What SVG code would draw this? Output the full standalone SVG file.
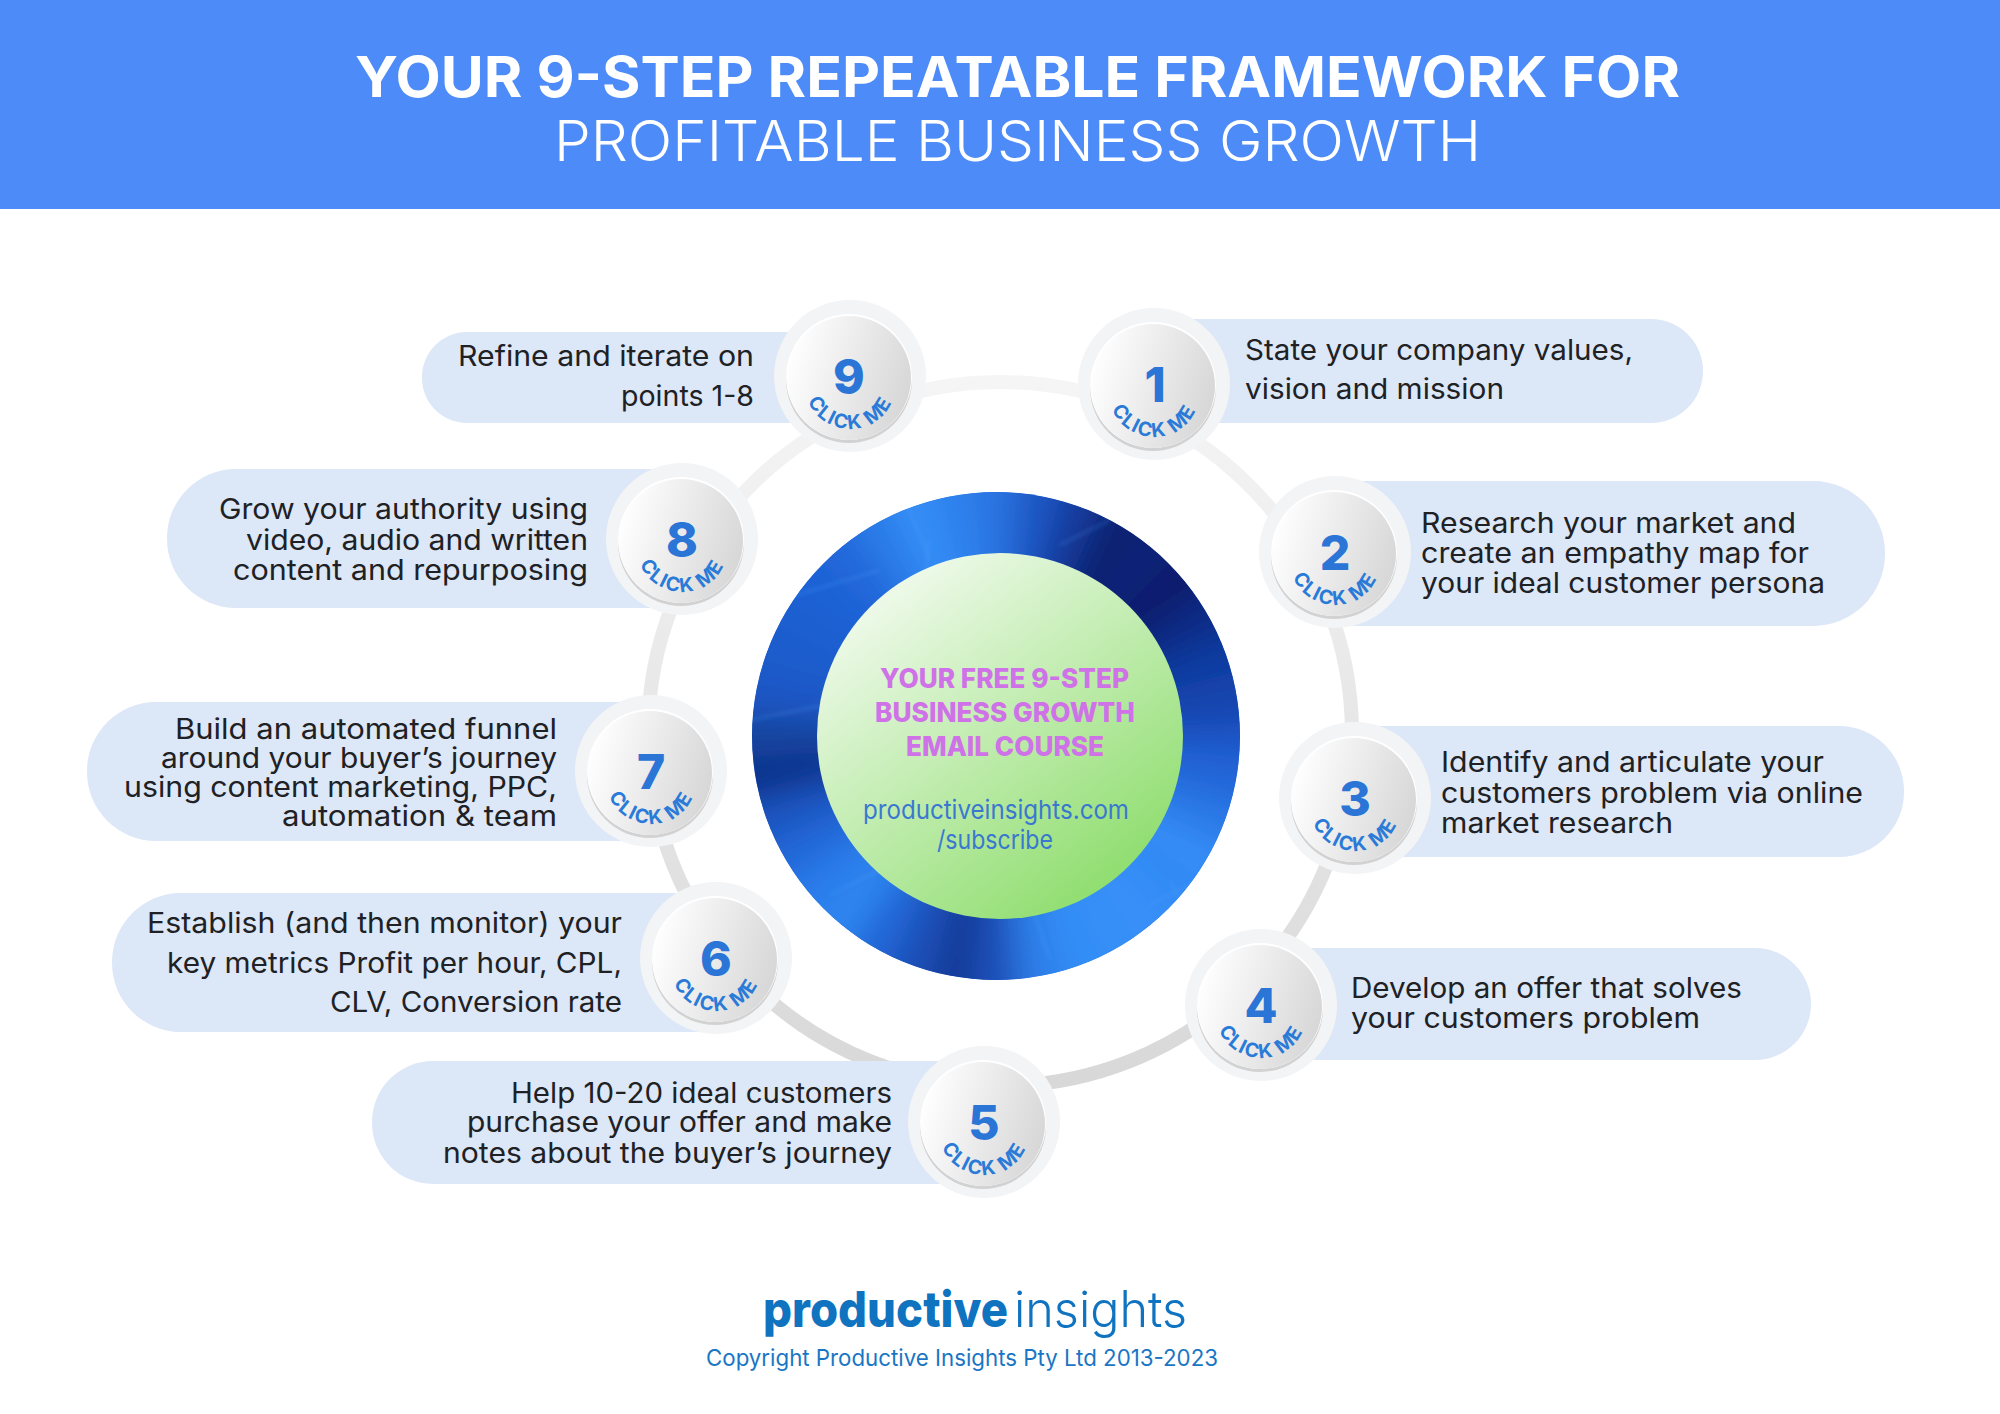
<svg xmlns="http://www.w3.org/2000/svg" width="2000" height="1414" viewBox="0 0 2000 1414">
<style>
text{font-family:"Inter","Liberation Sans",sans-serif}
.t{font-size:28.5px;fill:#202124;font-weight:400}
.pill{fill:#dce7f7}
.num{font-size:48px;font-weight:800;fill:#2a75d6;text-anchor:middle}
.ck{font-size:19.5px;font-weight:700;fill:#2a7ad8;letter-spacing:1.6px}
.h1{font-size:56px;font-weight:700;fill:#fff}
.h2{font-size:56px;font-weight:300;fill:#fff}
.c1{font-size:27px;font-weight:800;fill:#cf72e8}
.c2{font-size:26px;font-weight:400;fill:#3a78d0}
.s{fill:none;stroke-width:130;stroke-dasharray:12 348}
</style>
<defs>
<linearGradient id="ringG" x1="0" y1="0" x2="0" y2="1"><stop offset="0" stop-color="#f5f5f5"/><stop offset="1" stop-color="#d8d8d8"/></linearGradient>
<linearGradient id="coreG" x1="0.15" y1="0.1" x2="0.8" y2="0.95"><stop offset="0" stop-color="#f0faec"/><stop offset="1" stop-color="#8ddd6c"/></linearGradient>
<linearGradient id="ballG" x1="0" y1="0.35" x2="1" y2="0.65"><stop offset="0" stop-color="#ffffff"/><stop offset="1" stop-color="#d6d6d6"/></linearGradient>
<filter id="blur" filterUnits="userSpaceOnUse" x="650" y="390" width="700" height="700"><feGaussianBlur stdDeviation="15"/></filter>
<filter id="blurS" filterUnits="userSpaceOnUse" x="700" y="440" width="600" height="600"><feGaussianBlur stdDeviation="2"/></filter>
<clipPath id="discClip"><circle cx="996" cy="736" r="244"/></clipPath>
<path id="arc" d="M-46 8 A45 45 0 0 0 46 8" fill="none"/>
<g id="ball">
<circle r="76" fill="#f3f4f6"/>
<circle cx="-1" cy="4" r="63" fill="#d2d2d2"/>
<circle cx="-1" cy="1" r="63" fill="#ffffff"/>
<circle cx="-1" cy="2" r="62" fill="url(#ballG)"/>
</g>
</defs>
<rect id="header" x="0" y="0" width="2000" height="209" fill="#4c8bf8"/>
<text class="h1" x="355" y="97" textLength="1325" lengthAdjust="spacingAndGlyphs">YOUR 9-STEP REPEATABLE FRAMEWORK FOR</text>
<text class="h2" x="554" y="161" textLength="927" lengthAdjust="spacingAndGlyphs">PROFITABLE BUSINESS GROWTH</text>

<g id="connectors"><circle cx="1000" cy="734" r="352" fill="none" stroke="url(#ringG)" stroke-width="14"/></g>

<g id="center">
<g clip-path="url(#discClip)">
<circle cx="996" cy="736" r="244" fill="#2266d8"/>
<g filter="url(#blur)">
<g transform="translate(996,736) rotate(-5)">
<circle r="215" class="s" pathLength="360" stroke="#1c57c8" stroke-dashoffset="0"/>
<circle r="215" class="s" pathLength="360" stroke="#2265d8" stroke-dashoffset="-10"/>
<circle r="215" class="s" pathLength="360" stroke="#2a78e6" stroke-dashoffset="-20"/>
<circle r="215" class="s" pathLength="360" stroke="#348cf5" stroke-dashoffset="-30"/>
<circle r="215" class="s" pathLength="360" stroke="#338bf5" stroke-dashoffset="-40"/>
<circle r="215" class="s" pathLength="360" stroke="#388ff8" stroke-dashoffset="-50"/>
<circle r="215" class="s" pathLength="360" stroke="#358ff7" stroke-dashoffset="-60"/>
<circle r="215" class="s" pathLength="360" stroke="#338df5" stroke-dashoffset="-70"/>
<circle r="215" class="s" pathLength="360" stroke="#2d7ee8" stroke-dashoffset="-80"/>
<circle r="215" class="s" pathLength="360" stroke="#1a50b8" stroke-dashoffset="-90"/>
<circle r="215" class="s" pathLength="360" stroke="#123a98" stroke-dashoffset="-100"/>
<circle r="215" class="s" pathLength="360" stroke="#1a50b8" stroke-dashoffset="-110"/>
<circle r="215" class="s" pathLength="360" stroke="#2468d8" stroke-dashoffset="-120"/>
<circle r="215" class="s" pathLength="360" stroke="#2f86f0" stroke-dashoffset="-130"/>
<circle r="215" class="s" pathLength="360" stroke="#2b7cea" stroke-dashoffset="-140"/>
<circle r="215" class="s" pathLength="360" stroke="#2268d8" stroke-dashoffset="-150"/>
<circle r="215" class="s" pathLength="360" stroke="#1a55c0" stroke-dashoffset="-160"/>
<circle r="215" class="s" pathLength="360" stroke="#0e338c" stroke-dashoffset="-170"/>
<circle r="215" class="s" pathLength="360" stroke="#15459f" stroke-dashoffset="-180"/>
<circle r="215" class="s" pathLength="360" stroke="#1a56c4" stroke-dashoffset="-190"/>
<circle r="215" class="s" pathLength="360" stroke="#1c5ccc" stroke-dashoffset="-200"/>
<circle r="215" class="s" pathLength="360" stroke="#1e5fd0" stroke-dashoffset="-210"/>
<circle r="215" class="s" pathLength="360" stroke="#1f62d6" stroke-dashoffset="-220"/>
<circle r="215" class="s" pathLength="360" stroke="#2268da" stroke-dashoffset="-230"/>
<circle r="215" class="s" pathLength="360" stroke="#2a7be8" stroke-dashoffset="-240"/>
<circle r="215" class="s" pathLength="360" stroke="#348ef6" stroke-dashoffset="-250"/>
<circle r="215" class="s" pathLength="360" stroke="#2e82ee" stroke-dashoffset="-260"/>
<circle r="215" class="s" pathLength="360" stroke="#2a73e0" stroke-dashoffset="-270"/>
<circle r="215" class="s" pathLength="360" stroke="#1d57c4" stroke-dashoffset="-280"/>
<circle r="215" class="s" pathLength="360" stroke="#133a9c" stroke-dashoffset="-290"/>
<circle r="215" class="s" pathLength="360" stroke="#0a2270" stroke-dashoffset="-300"/>
<circle r="215" class="s" pathLength="360" stroke="#0a2378" stroke-dashoffset="-310"/>
<circle r="215" class="s" pathLength="360" stroke="#081f6c" stroke-dashoffset="-320"/>
<circle r="215" class="s" pathLength="360" stroke="#0c2c85" stroke-dashoffset="-330"/>
<circle r="215" class="s" pathLength="360" stroke="#0f3a9f" stroke-dashoffset="-340"/>
<circle r="215" class="s" pathLength="360" stroke="#1545ae" stroke-dashoffset="-350"/>
</g>
</g>
<g stroke="#5aaaff" stroke-width="2.5" opacity=".28" fill="none" filter="url(#blurS)">
<path d="M905 500L930 560M930 540L920 610M780 600L880 570M1050 960L1030 900M1150 905L1240 860M1170 880L1210 960M830 895L900 860M750 720L850 700M1060 545L1110 520"/>
</g>
</g>
<circle cx="1000" cy="736" r="183" fill="url(#coreG)"/>
<text class="c1" x="880" y="688" textLength="249" lengthAdjust="spacingAndGlyphs">YOUR FREE 9-STEP</text>
<text class="c1" x="875" y="722" textLength="260" lengthAdjust="spacingAndGlyphs">BUSINESS GROWTH</text>
<text class="c1" x="906" y="756" textLength="198" lengthAdjust="spacingAndGlyphs">EMAIL COURSE</text>
<text class="c2" x="863" y="819" textLength="266" lengthAdjust="spacingAndGlyphs">productiveinsights.com</text>
<text class="c2" x="937" y="849" textLength="116" lengthAdjust="spacingAndGlyphs">/subscribe</text>
</g>

<g id="node1"><rect class="pill" x="1103" y="319" width="600" height="104" rx="52"/>
<use href="#ball" x="1154" y="384"/>
<text class="num" x="1155" y="402">1</text>
<g transform="translate(1154,383)"><text class="ck"><textPath href="#arc" startOffset="50%" text-anchor="middle">CLICK ME</textPath></text></g>
<text class="t" x="1245" y="360" textLength="388" lengthAdjust="spacingAndGlyphs">State your company values,</text>
<text class="t" x="1245" y="399" textLength="259" lengthAdjust="spacingAndGlyphs">vision and mission</text></g>

<g id="node2"><rect class="pill" x="1283" y="481" width="602" height="145" rx="72"/>
<use href="#ball" x="1335" y="552"/>
<text class="num" x="1335" y="570">2</text>
<g transform="translate(1335,551)"><text class="ck"><textPath href="#arc" startOffset="50%" text-anchor="middle">CLICK ME</textPath></text></g>
<text class="t" x="1421" y="533" textLength="375" lengthAdjust="spacingAndGlyphs">Research your market and</text>
<text class="t" x="1421" y="563" textLength="388" lengthAdjust="spacingAndGlyphs">create an empathy map for</text>
<text class="t" x="1421" y="593" textLength="404" lengthAdjust="spacingAndGlyphs">your ideal customer persona</text></g>

<g id="node3"><rect class="pill" x="1303" y="726" width="601" height="131" rx="65"/>
<use href="#ball" x="1355" y="798"/>
<text class="num" x="1355" y="816">3</text>
<g transform="translate(1355,797)"><text class="ck"><textPath href="#arc" startOffset="50%" text-anchor="middle">CLICK ME</textPath></text></g>
<text class="t" x="1441" y="772" textLength="383" lengthAdjust="spacingAndGlyphs">Identify and articulate your</text>
<text class="t" x="1441" y="803" textLength="422" lengthAdjust="spacingAndGlyphs">customers problem via online</text>
<text class="t" x="1441" y="833" textLength="232" lengthAdjust="spacingAndGlyphs">market research</text></g>

<g id="node4"><rect class="pill" x="1210" y="948" width="601" height="112" rx="56"/>
<use href="#ball" x="1261" y="1005"/>
<text class="num" x="1261" y="1023">4</text>
<g transform="translate(1261,1004)"><text class="ck"><textPath href="#arc" startOffset="50%" text-anchor="middle">CLICK ME</textPath></text></g>
<text class="t" x="1351" y="998" textLength="391" lengthAdjust="spacingAndGlyphs">Develop an offer that solves</text>
<text class="t" x="1351" y="1028" textLength="349" lengthAdjust="spacingAndGlyphs">your customers problem</text></g>

<g id="node5"><rect class="pill" x="372" y="1061" width="661" height="123" rx="61"/>
<use href="#ball" x="984" y="1122"/>
<text class="num" x="984" y="1140">5</text>
<g transform="translate(984,1121)"><text class="ck"><textPath href="#arc" startOffset="50%" text-anchor="middle">CLICK ME</textPath></text></g>
<text class="t" x="511" y="1103" textLength="381" lengthAdjust="spacingAndGlyphs">Help 10-20 ideal customers</text>
<text class="t" x="467" y="1132" textLength="425" lengthAdjust="spacingAndGlyphs">purchase your offer and make</text>
<text class="t" x="443" y="1163" textLength="449" lengthAdjust="spacingAndGlyphs">notes about the buyer’s journey</text></g>

<g id="node6"><rect class="pill" x="112" y="893" width="652" height="139" rx="69"/>
<use href="#ball" x="716" y="958"/>
<text class="num" x="716" y="976">6</text>
<g transform="translate(716,957)"><text class="ck"><textPath href="#arc" startOffset="50%" text-anchor="middle">CLICK ME</textPath></text></g>
<text class="t" x="147" y="933" textLength="475" lengthAdjust="spacingAndGlyphs">Establish (and then monitor) your</text>
<text class="t" x="167" y="973" textLength="455" lengthAdjust="spacingAndGlyphs">key metrics Profit per hour, CPL,</text>
<text class="t" x="330" y="1012" textLength="292" lengthAdjust="spacingAndGlyphs">CLV, Conversion rate</text></g>

<g id="node7"><rect class="pill" x="87" y="702" width="612" height="139" rx="69"/>
<use href="#ball" x="651" y="771"/>
<text class="num" x="651" y="789">7</text>
<g transform="translate(651,770)"><text class="ck"><textPath href="#arc" startOffset="50%" text-anchor="middle">CLICK ME</textPath></text></g>
<text class="t" x="175" y="739" textLength="382" lengthAdjust="spacingAndGlyphs">Build an automated funnel</text>
<text class="t" x="161" y="768" textLength="396" lengthAdjust="spacingAndGlyphs">around your buyer’s journey</text>
<text class="t" x="124" y="797" textLength="433" lengthAdjust="spacingAndGlyphs">using content marketing, PPC,</text>
<text class="t" x="282" y="826" textLength="275" lengthAdjust="spacingAndGlyphs">automation &amp; team</text></g>

<g id="node8"><rect class="pill" x="167" y="469" width="564" height="139" rx="69"/>
<use href="#ball" x="682" y="539"/>
<text class="num" x="682" y="557">8</text>
<g transform="translate(682,538)"><text class="ck"><textPath href="#arc" startOffset="50%" text-anchor="middle">CLICK ME</textPath></text></g>
<text class="t" x="219" y="519" textLength="369" lengthAdjust="spacingAndGlyphs">Grow your authority using</text>
<text class="t" x="246" y="550" textLength="342" lengthAdjust="spacingAndGlyphs">video, audio and written</text>
<text class="t" x="233" y="580" textLength="355" lengthAdjust="spacingAndGlyphs">content and repurposing</text></g>

<g id="node9"><rect class="pill" x="422" y="332" width="476" height="91" rx="45"/>
<use href="#ball" x="850" y="376"/>
<text class="num" x="849" y="394">9</text>
<g transform="translate(850,375)"><text class="ck"><textPath href="#arc" startOffset="50%" text-anchor="middle">CLICK ME</textPath></text></g>
<text class="t" x="458" y="366" textLength="296" lengthAdjust="spacingAndGlyphs">Refine and iterate on</text>
<text class="t" x="621" y="406" textLength="133" lengthAdjust="spacingAndGlyphs">points 1-8</text></g>

<g id="footer">
<text x="763" y="1327" font-size="50" font-weight="800" fill="#0f73c0" textLength="245" lengthAdjust="spacingAndGlyphs">productive</text>
<text x="1014" y="1327" font-size="50" font-weight="300" fill="#0f73c0" textLength="173" lengthAdjust="spacingAndGlyphs">insights</text>
<text x="706" y="1366" font-size="23" fill="#1a76c4" textLength="512" lengthAdjust="spacingAndGlyphs">Copyright Productive Insights Pty Ltd 2013-2023</text>
</g>
</svg>
